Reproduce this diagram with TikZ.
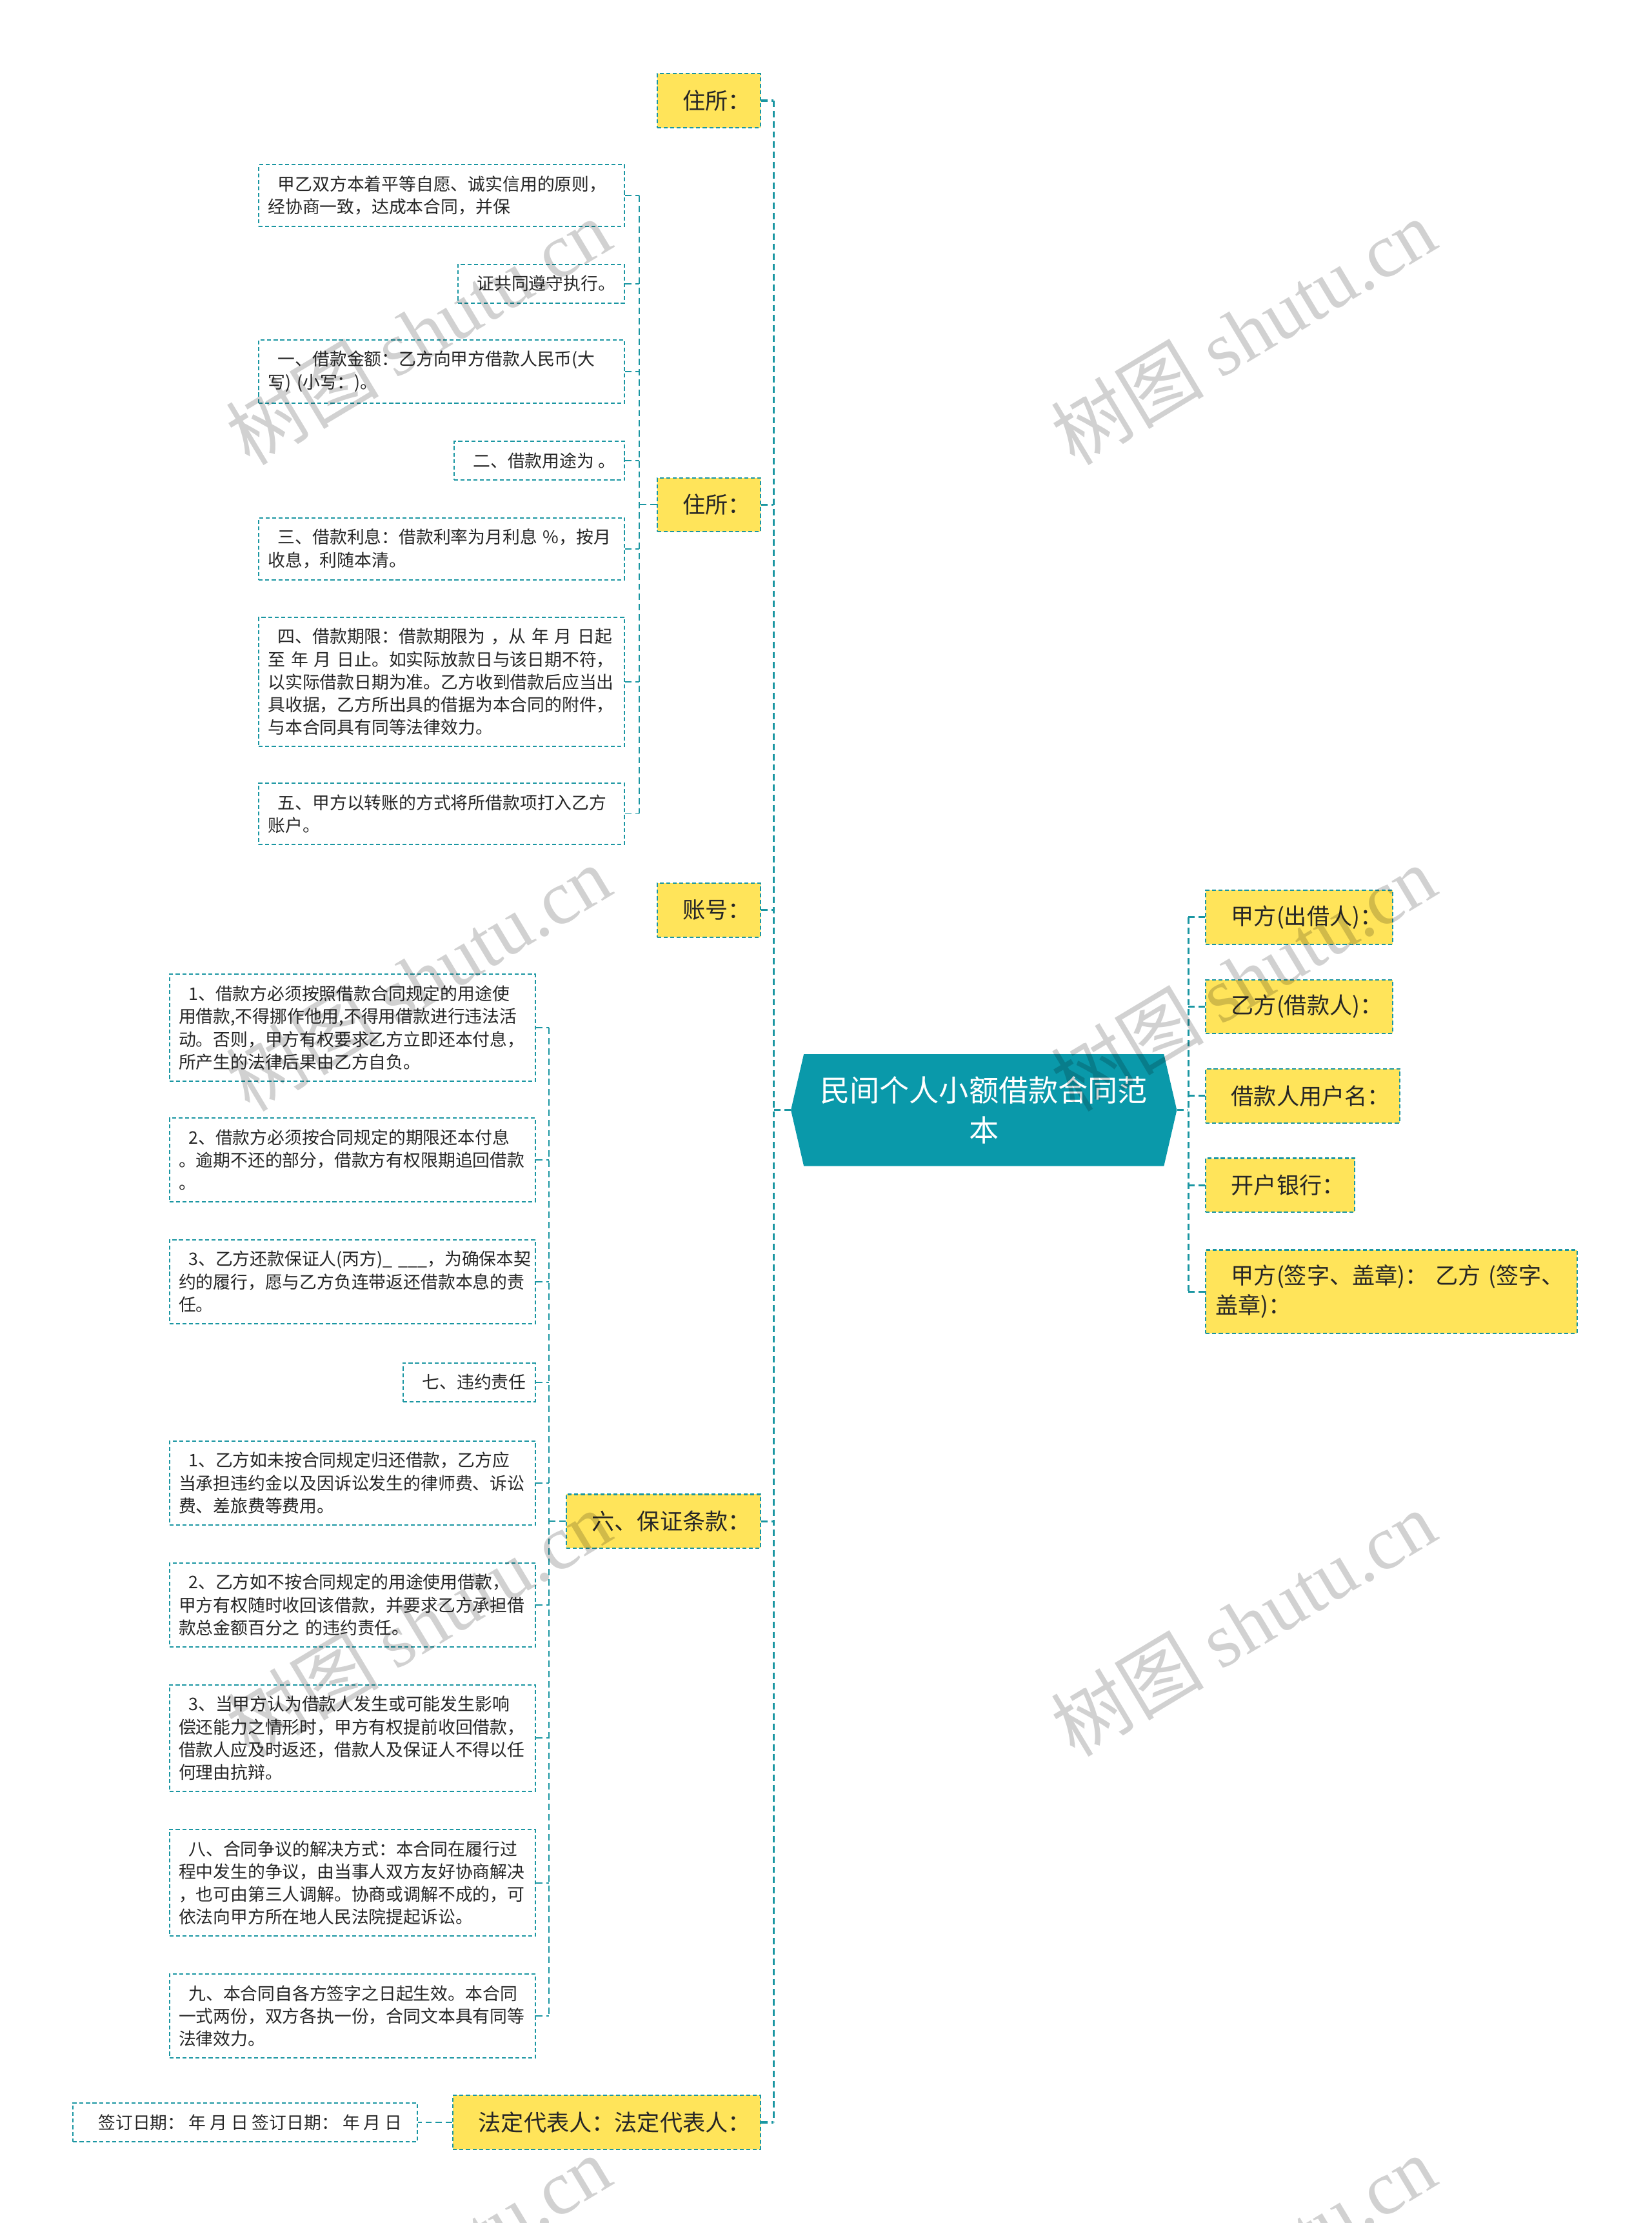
\documentclass[tikz,border=0pt]{standalone}
\usepackage{fontspec}
\setmainfont{Noto Sans CJK SC}
\newfontfamily\markfont{Liberation Serif}
\usetikzlibrary{shapes.symbols}
\definecolor{tealline}{RGB}{26,150,162}
\definecolor{rootfill}{RGB}{10,153,170}
\definecolor{topicfill}{RGB}{255,228,90}

\begin{document}
\begin{tikzpicture}[x=1pt, y=-1pt,
    spine/.style={draw=tealline, line width=1.4pt, dash pattern=on 4.5pt off 2.7pt},
    twig/.style={draw=tealline, line width=0.9pt, dash pattern=on 4.5pt off 2.7pt},
    topic/.style={draw=tealline, fill=topicfill, line width=1pt, dash pattern=on 2.8pt off 1.8pt,
      font=\fontsize{16}{21}\selectfont, text=black!85, inner xsep=7pt, inner ysep=10.5pt,
      minimum height=38pt, align=left},
    leaf/.style={draw=tealline, fill=white, line width=0.9pt, dash pattern=on 2.8pt off 1.8pt,
      font=\fontsize{12.2}{16}\selectfont, text=black!85, inner xsep=6.5pt, inner ysep=8pt,
      align=left},
    leafwide/.style={leaf, text width=245pt},
    wmark/.style={rotate=31, opacity=0.18, font=\fontsize{54}{54}\selectfont}]
    \useasboundingbox (0,0) rectangle (1165,1568);

    \node[signal, signal to=west and east, signal pointer angle=154, fill=rootfill, text=white,
      font=\fontsize{21}{28}\selectfont, text width=240pt, align=center, inner xsep=7pt,
      inner ysep=15pt, minimum height=79pt] (root) at (694,783) {民间个人小额借款合同范\\本};

    \node[topic, anchor=east] (zs1) at (537,71) {\hspace*{11pt}住所：};
    \node[topic, anchor=east] (zs2) at (537,356) {\hspace*{11pt}住所：};
    \node[topic, anchor=east] (zh) at (537,642) {\hspace*{11pt}账号：};
    \node[topic, anchor=east] (bz) at (537,1073) {\hspace*{11pt}六、保证条款：};
    \node[topic, anchor=east] (fd) at (537,1497) {\hspace*{11pt}法定代表人：法定代表人：};

    \node[topic, anchor=west] (jf) at (850,647) {\hspace*{11pt}甲方(出借人)：};
    \node[topic, anchor=west] (yf) at (850,710) {\hspace*{11pt}乙方(借款人)：};
    \node[topic, anchor=west] (hm) at (850,773) {\hspace*{11pt}借款人用户名：};
    \node[topic, anchor=west] (yh) at (850,836) {\hspace*{11pt}开户银行：};
    \node[topic, anchor=west, text width=248pt] (qz) at (850,911)
      {\hspace*{11pt}甲方(签字、盖章)：~乙方~(签字、\\盖章)：};

    \node[leafwide, anchor=east] (t1) at (441,138)
      {\hspace*{7pt}甲乙双方本着平等自愿、诚实信用的原则，\\经协商一致，达成本合同，并保};
    \node[leaf, anchor=east] (t2) at (441,200) {\hspace*{7pt}证共同遵守执行。};
    \node[leafwide, anchor=east] (t3) at (441,262)
      {\hspace*{7pt}一、借款金额：乙方向甲方借款人民币(大\\写)~(小写：)。};
    \node[leaf, anchor=east] (t4) at (441,325) {\hspace*{7pt}二、借款用途为~。};
    \node[leafwide, anchor=east] (t5) at (441,387)
      {\hspace*{7pt}三、借款利息：借款利率为月利息~\%，按月\\收息，利随本清。};
    \node[leafwide, anchor=east] (t6) at (441,481)
      {\hspace*{7pt}四、借款期限：借款期限为~，从~年~月~日起\\至~年~月~日止。如实际放款日与该日期不符，\\以实际借款日期为准。乙方收到借款后应当出\\具收据，乙方所出具的借据为本合同的附件，\\与本合同具有同等法律效力。};
    \node[leafwide, anchor=east] (t7) at (441,574)
      {\hspace*{7pt}五、甲方以转账的方式将所借款项打入乙方\\账户。};

    \node[leafwide, anchor=east] (g1) at (378,725)
      {\hspace*{7pt}1、借款方必须按照借款合同规定的用途使\\用借款,不得挪作他用,不得用借款进行违法活\\动。否则，甲方有权要求乙方立即还本付息，\\所产生的法律后果由乙方自负。};
    \node[leafwide, anchor=east] (g2) at (378,818)
      {\hspace*{7pt}2、借款方必须按合同规定的期限还本付息\\。逾期不还的部分，借款方有权限期追回借款\\。};
    \node[leafwide, anchor=east] (g3) at (378,904)
      {\hspace*{7pt}3、乙方还款保证人(丙方)\_~\_\_\_，为确保本契\\约的履行，愿与乙方负连带返还借款本息的责\\任。};
    \node[leaf, anchor=east] (g4) at (378,975) {\hspace*{7pt}七、违约责任};
    \node[leafwide, anchor=east] (g5) at (378,1046)
      {\hspace*{7pt}1、乙方如未按合同规定归还借款，乙方应\\当承担违约金以及因诉讼发生的律师费、诉讼\\费、差旅费等费用。};
    \node[leafwide, anchor=east] (g6) at (378,1132)
      {\hspace*{7pt}2、乙方如不按合同规定的用途使用借款，\\甲方有权随时收回该借款，并要求乙方承担借\\款总金额百分之~的违约责任。};
    \node[leafwide, anchor=east] (g7) at (378,1226)
      {\hspace*{7pt}3、当甲方认为借款人发生或可能发生影响\\偿还能力之情形时，甲方有权提前收回借款，\\借款人应及时返还，借款人及保证人不得以任\\何理由抗辩。};
    \node[leafwide, anchor=east] (g8) at (378,1328)
      {\hspace*{7pt}八、合同争议的解决方式：本合同在履行过\\程中发生的争议，由当事人双方友好协商解决\\，也可由第三人调解。协商或调解不成的，可\\依法向甲方所在地人民法院提起诉讼。};
    \node[leafwide, anchor=east] (g9) at (378,1422)
      {\hspace*{7pt}九、本合同自各方签字之日起生效。本合同\\一式两份，双方各执一份，合同文本具有同等\\法律效力。};

    \node[leaf, anchor=east, minimum width=243pt] (rq) at (295,1497)
      {\hspace*{7pt}签订日期：~年~月~日~签订日期：~年~月~日};

    \draw[spine] (root.west) -- ++(-12,0) coordinate (spl);
    \draw[spine] (zs1.east -| spl) -- (fd.east -| spl);
    \foreach \n in {zs1,zs2,zh,bz,fd}
      \draw[spine] (\n.east) -- (\n.east -| spl);
    \draw[spine] (root.east) -- ++(8,0) coordinate (spr);
    \draw[spine] (jf.west -| spr) -- (qz.west -| spr);
    \foreach \n in {jf,yf,hm,yh,qz}
      \draw[spine] (\n.west) -- (\n.west -| spr);

    \draw[twig] (zs2.west) -- ++(-12,0) coordinate (zsj);
    \draw[twig] (t1.east -| zsj) -- (t7.east -| zsj);
    \foreach \n in {t1,t2,t3,t4,t5,t6,t7}
      \draw[twig] (\n.east) -- (\n.east -| zsj);
    \draw[twig] (bz.west) -- ++(-12,0) coordinate (bzj);
    \draw[twig] (g1.east -| bzj) -- (g9.east -| bzj);
    \foreach \n in {g1,g2,g3,g4,g5,g6,g7,g8,g9}
      \draw[twig] (\n.east) -- (\n.east -| bzj);
    \draw[twig] (fd.west) -- (rq.east);

    \foreach \x in {295,877}
      \foreach \y in {234,690,1145,1600}
        \node[wmark] at (\x,\y) {树图 {\markfont shutu.cn}};
  \end{tikzpicture}
\end{document}
